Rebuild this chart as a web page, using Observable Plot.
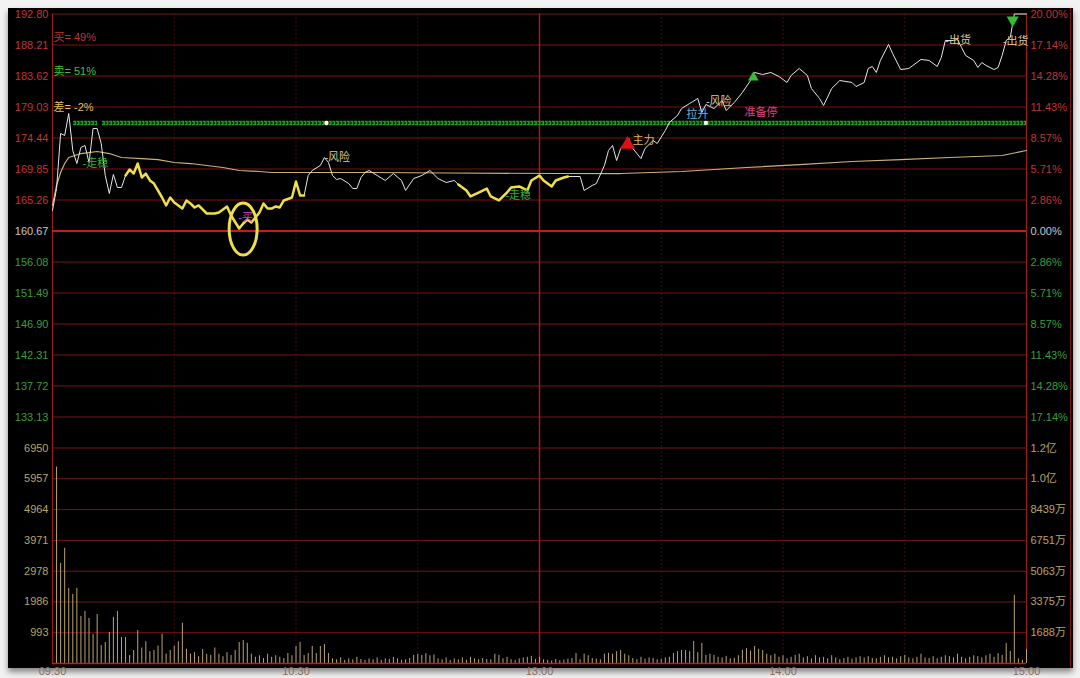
<!DOCTYPE html>
<html><head><meta charset="utf-8">
<script src="https://cdn.jsdelivr.net/npm/d3@7"></script>
<script src="https://cdn.jsdelivr.net/npm/@observablehq/plot@0.6"></script>
<style>
body{margin:0;background:#fff;}
#wrap{position:relative;width:1080px;height:678px;overflow:hidden;background:#f2f2f2;}
#panel{position:absolute;left:8px;top:8px;width:1065px;height:660px;background:#000;box-shadow:0 4px 6px rgba(0,0,0,0.45);}
.layer{position:absolute;left:0;top:0;}
</style></head><body>
<div id="wrap"><div id="panel"></div></div>
<script>
// ---------- data ----------
const priceTicks=[192.80,188.21,183.62,179.03,174.44,169.85,165.26,160.67,156.08,151.49,146.90,142.31,137.72,133.13];
const basePrice=160.67;
const pctLabels=["20.00%","17.14%","14.28%","11.43%","8.57%","5.71%","2.86%","0.00%","2.86%","5.71%","8.57%","11.43%","14.28%","17.14%"];
const volTicks=[6950,5957,4964,3971,2978,1986,993];
const amtLabels=["1.2亿","1.0亿","8439万","6751万","5063万","3375万","1688万"];
const timeMin=[0,60,120,180,240];
const timeLabels=["09:30","10:30","13:00","14:00","15:00"];
const gridMin=[30,60,90,150,180,210];
const noonMin=[120];

const priceMin=[0,1,2,3,4,5,6,7,8,9,10,11,12,13,14,15,16,17,18,19,20,21,22,23,24,25,27,28,29,30,
32,33,34,35,36,38,40,41,43,44,46,47,48,49,51,52,53,54,55,56,57,59,60,61,62,63,64,66,67,68,
69,70,71,73,74,75,76,77,78,80,82,84,86,87,89,91,93,95,97,99,100,102,103,105,107,108,110,112,113,115,
117,118,120,121,123,124,126,127,129,130,131,133,134,136,137,138,139,140,142,143,145,146,148,149,151,152,154,155,157,159,
160,161,163,165,166,168,170,172,173,175,177,179,181,182,184,186,187,189,190,192,194,197,198,200,201,202,203,204,206,207,
209,211,212,214,216,218,219,220,222,223,224,225,227,228,229,230,232,233,234,235,236,237,238,240];
const priceVal=[163.71,166.96,175.11,174.81,178.07,172.59,170.66,173.03,173.33,170.81,175.85,175.85,173.63,168.89,166.22,169.04,167.11,167.11,168.89,169.78,169.18,170.66,168.59,169.18,168.15,167.70,165.63,164.45,165.63,164.89,
164.00,165.19,164.74,164.15,164.45,163.26,163.26,163.41,164.30,162.96,161.04,161.78,162.37,161.93,163.41,164.74,164.00,164.00,164.30,164.15,165.19,165.63,168.00,165.93,165.93,168.89,169.63,170.37,171.55,170.81,
168.89,168.30,168.44,167.70,166.96,166.96,168.59,169.33,169.63,168.89,168.15,169.18,168.15,166.67,168.44,168.89,169.63,168.44,167.85,168.15,167.56,166.67,165.78,166.37,166.96,165.78,165.19,166.37,167.11,167.26,
166.67,168.15,168.89,168.15,167.26,168.15,168.59,168.74,168.74,168.74,166.67,167.41,167.70,170.37,172.59,173.33,171.11,172.89,174.37,172.89,171.40,172.89,174.07,173.63,175.55,176.74,177.78,178.81,179.55,180.29,
178.22,179.40,178.81,179.99,178.51,179.70,181.18,182.95,184.14,183.84,184.14,183.55,182.66,183.70,184.73,183.70,181.77,180.29,179.25,181.77,182.95,182.66,182.06,182.66,184.73,185.03,184.14,185.92,188.29,186.96,
184.58,184.73,185.18,186.07,185.92,185.03,186.36,188.88,188.88,189.03,187.84,186.66,185.92,184.88,185.62,185.18,184.58,184.88,186.66,188.88,189.32,192.80,192.80,192.80];
const yellowFrom=[18,100];
const yellowTo=[62,127];

const avgMin=[0,1,2,3,4,7,11,14,17,22,26,30,34,38,42,46,51,54,59,63,78,98,125,140,155,171,184,197,209,221,234,240];
const avgVal=[164.45,167.41,169.33,170.66,171.55,172.14,172.44,172.14,171.55,171.40,171.25,170.81,170.66,170.37,170.07,169.63,169.48,169.33,169.33,169.33,169.33,169.26,169.18,169.18,169.48,170.07,170.51,170.96,171.25,171.55,171.85,172.59];

// volume per minute, minutes 1..240
const volume=[6336,3232,3717,2424,2230,2424,1519,1681,1455,937,
1584,582,679,1002,1487,1681,840,840,259,420,
1067,500,700,380,420,560,950,300,420,560,
700,1300,460,300,350,220,450,300,260,500,
300,220,350,260,420,680,740,650,300,200,
250,160,300,200,250,200,160,323,250,550,
680,260,323,550,323,550,610,323,150,120,
180,100,150,120,200,130,100,150,120,180,
100,150,130,200,150,100,120,160,260,300,
260,320,250,280,150,120,180,100,150,120,
180,100,200,150,120,160,130,120,300,260,
150,200,120,100,150,180,200,230,130,200,
120,100,80,130,90,110,140,160,320,120,
300,250,160,140,120,300,330,300,380,420,
300,250,160,120,200,140,180,160,120,140,
180,200,320,380,420,420,380,711,350,646,
260,300,260,200,180,230,150,170,250,420,
480,400,550,460,420,300,250,300,200,250,
150,200,260,300,180,220,150,250,180,200,
150,250,180,120,160,200,140,180,220,180,
220,160,150,200,250,180,200,150,220,260,
180,150,200,300,180,160,220,150,200,250,
220,180,300,200,150,200,250,220,180,250,
300,200,320,260,646,388,2198,150,100,453];

const ratioText=["买= 49%","卖= 51%","差= -2%"];
const ratioPrice=[189.32,184.29,178.96];

const noteText=["-走稳","-风险","-买","-走稳","主力","拉升","-风险","准备停","-出货","-出货"];
const noteMin=[7.4,67,45.8,111.6,142.9,156.2,161,170.5,220,234.2];
const notePrice=[170.66,171.55,162.67,165.93,174.07,177.92,179.84,178.22,188.88,188.73];
const noteKind=["up","risk","buy","up","main","lift","risk","stop","sell","sell"];

const bandPrice=176.66;
const bandFrom=[5.2,12.3];
const bandTo=[11.1,240];
const bandDotMin=[67.5,161];
const upMarkMin=[141.7], upMarkPrice=[173.48];
const greenUpMin=[172.7], greenUpPrice=[183.4];
const greenDownMin=[236.6], greenDownPrice=[191.9];
const circleMin=47.1, circlePrice=160.89;

// ---------- styles ----------
const C={grid:"#7a1414",base:"#c81a1a",noon:"#b01818",axis:"#a01c1c",up:"#c03434",zero:"#c8c8c8",down:"#3a9e3a",
 white:"#e6e6e6",yellow:"#f0e048",avg:"#c8b478",vol:"#b8a46e",volTxt:"#b8a466",band:"#22a022"};
const noteColor={up:"#2fb52f",risk:"#d8cc9c",buy:"#d040d0",main:"#d8b860",lift:"#6ab8e0",stop:"#e04080",sell:"#d8cc9c"};
const W=1080,H=678,ML=52,MR=54;
const font='"Liberation Sans","Noto Sans CJK SC",Arial,sans-serif';
const baseStyle={background:"transparent",fontFamily:font,fontSize:"11px",overflow:"visible"};

// price segments
const isY=t=>yellowFrom.some((a,k)=>t>=a&&t<=yellowTo[k]);
const whiteRows=[],yellowRows=[];
let seg=0,prev=null;
for(let i=0;i<priceMin.length-1;i++){
  const y=isY(priceMin[i])&&isY(priceMin[i+1]);
  if(y!==prev)seg++;
  prev=y;
  const tgt=y?yellowRows:whiteRows;
  tgt.push({t:priceMin[i],p:priceVal[i],seg},{t:priceMin[i+1],p:priceVal[i+1],seg});
}
const avgRows=avgMin.map((t,i)=>({t,p:avgVal[i]}));
const notes=noteText.map((s,i)=>({s,t:noteMin[i],p:notePrice[i],c:noteColor[noteKind[i]]}));
const priceCol=p=>p>basePrice+0.001?C.up:(p<basePrice-0.001?C.down:C.zero);

const ellipse=(index,scales)=>{
  const e=document.createElementNS("http://www.w3.org/2000/svg","ellipse");
  e.setAttribute("cx",scales.x(circleMin));e.setAttribute("cy",scales.y(circlePrice));
  e.setAttribute("rx",14);e.setAttribute("ry",26);
  e.setAttribute("fill","none");e.setAttribute("stroke",C.yellow);e.setAttribute("stroke-width",3);
  return e;
};

const pricePlot=Plot.plot({
  width:W,height:H,marginLeft:ML,marginRight:MR,marginTop:13.5,marginBottom:H-447.5,
  x:{domain:[0,240],axis:null},y:{domain:[128.54,192.80],axis:null},
  style:baseStyle,
  marks:[
    Plot.ruleY(priceTicks.filter(d=>d!==basePrice),{stroke:C.grid,strokeWidth:1}),
    Plot.ruleX(gridMin,{stroke:C.grid,strokeWidth:1,strokeDasharray:"1,3"}),
    Plot.ruleX(noonMin,{stroke:C.noon,strokeWidth:1.5}),
    Plot.ruleX([0,240],{stroke:C.axis,strokeWidth:1}),
    Plot.ruleY([basePrice],{stroke:C.base,strokeWidth:2}),
    Plot.text(priceTicks,{y:d=>d,text:d=>d.toFixed(2),frameAnchor:"left",dx:-4,textAnchor:"end",fill:priceCol}),
    Plot.text(priceTicks,{y:d=>d,text:(d,i)=>pctLabels[i],frameAnchor:"right",dx:4,textAnchor:"start",fill:priceCol}),
    Plot.text(ratioText,{y:(d,i)=>ratioPrice[i],text:d=>d,frameAnchor:"left",dx:1,textAnchor:"start",fill:(d,i)=>[C.up,"#3cc43c","#e0c060"][i],fontSize:11}),
    // green signal band
    Plot.ruleY(bandFrom,{y:()=>bandPrice,x1:d=>d,x2:(d,i)=>bandTo[i],stroke:C.band,strokeWidth:4.5,strokeDasharray:"3,0.6"}),
    Plot.ruleY(bandFrom,{y:()=>bandPrice,x1:d=>d,x2:(d,i)=>bandTo[i],stroke:"#000",strokeWidth:1.6,strokeDasharray:"1.4,2.2"}),
    Plot.dot(bandDotMin,{x:d=>d,y:()=>bandPrice,r:2.2,fill:"#fff"}),
    Plot.line(avgRows,{x:"t",y:"p",stroke:C.avg,strokeWidth:1.2}),
    Plot.line(whiteRows,{x:"t",y:"p",z:"seg",stroke:C.white,strokeWidth:1}),
    Plot.line(yellowRows,{x:"t",y:"p",z:"seg",stroke:C.yellow,strokeWidth:2.5}),
    ellipse,
    Plot.dot(upMarkMin,{x:d=>d,y:(d,i)=>upMarkPrice[i],symbol:"triangle",r:5.5,fill:"#e01010"}),
    Plot.dot(greenUpMin,{x:d=>d,y:(d,i)=>greenUpPrice[i],symbol:"triangle",r:4,fill:"#30c030"}),
    Plot.dot(greenDownMin,{x:d=>d,y:(d,i)=>greenDownPrice[i],symbol:"triangle",r:4.5,rotate:180,fill:"#30c030"}),
    Plot.text(notes,{x:"t",y:"p",text:"s",fill:"c",textAnchor:"start",fontSize:11}),
  ]
});
pricePlot.classList.add("layer");

const volRows=volume.map((v,i)=>({m:i+1,v}));
const volPlot=Plot.plot({
  width:W,height:H,marginLeft:ML,marginRight:MR,marginTop:447.5,marginBottom:H-663,
  x:{domain:[0,240],axis:null},y:{domain:[0,6950],axis:null},
  style:baseStyle,
  marks:[
    Plot.ruleY(volTicks,{stroke:C.grid,strokeWidth:1}),
    Plot.ruleX(gridMin,{stroke:C.grid,strokeWidth:1,strokeDasharray:"1,3"}),
    Plot.ruleX(noonMin,{stroke:C.noon,strokeWidth:1.5}),
    Plot.ruleX([0,240],{stroke:C.axis,strokeWidth:1}),
    Plot.ruleX(volRows,{x:"m",y1:0,y2:"v",stroke:C.vol,strokeWidth:1}),
    Plot.ruleY([0],{stroke:C.base,strokeWidth:1.5}),
    Plot.text(volTicks,{y:d=>d,text:d=>String(d),frameAnchor:"left",dx:-4,textAnchor:"end",fill:C.volTxt}),
    Plot.text(volTicks,{y:d=>d,text:(d,i)=>amtLabels[i],frameAnchor:"right",dx:4,textAnchor:"start",fill:C.volTxt}),
    Plot.text(timeMin,{x:d=>d,text:(d,i)=>timeLabels[i],frameAnchor:"bottom",dy:11,textAnchor:(d)=>d===120?"middle":"end",fill:"#8c6c60"})
  ]
});
volPlot.classList.add("layer");
const wrap=document.getElementById("wrap");
wrap.appendChild(pricePlot);
wrap.appendChild(volPlot);
// outer right edge line of the panel
const edge=document.createElement("div");
edge.style.cssText="position:absolute;left:1070px;top:8px;width:1px;height:660px;background:#7a1414";
wrap.appendChild(edge);
</script>
</body></html>
